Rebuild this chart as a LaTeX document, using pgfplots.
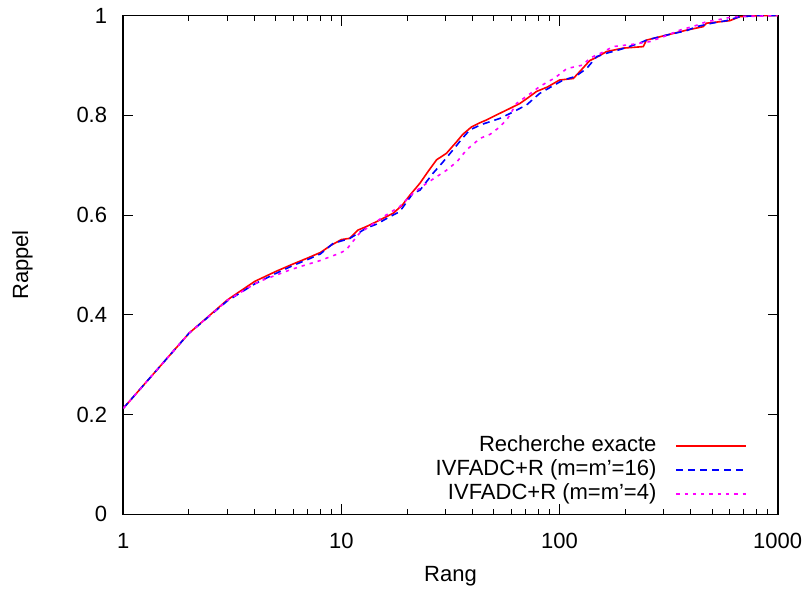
\documentclass[border=0pt]{standalone}
\usepackage{fontspec}
\setmainfont{Liberation Sans}
\usepackage{pgfplots}
\pgfplotsset{compat=1.18}
\definecolor{gpred}{RGB}{255,0,0}
\definecolor{gpblue}{RGB}{0,0,255}
\definecolor{gpmag}{RGB}{255,0,255}
\pgfplotsset{gpline/.style={legend image code/.code={\draw[##1] (0pt,0pt) -- (70pt,0pt);}}}
\begin{document}
\begin{tikzpicture}
\begin{axis}[
  scale only axis,
  width=654.4pt, height=498.6pt,
  xmode=log,
  xmin=1, xmax=1000, ymin=0, ymax=1,
  font=\fontsize{22}{26}\selectfont,
  /pgf/number format/assume math mode=true,
  xtick={1,10,100,1000},
  xticklabels={1,10,100,1000},
  ytick={0,0.2,0.4,0.6,0.8,1},
  yticklabels={0,0.2,0.4,0.6,0.8,1},
  tick align=inside,
  major tick length=10pt,
  minor tick length=5pt,
  tick style={black, line width=1pt},
  axis line style={line width=1.6pt},
  yticklabel style={anchor=east, inner sep=0pt, xshift=-16pt},
  xticklabel style={anchor=north, inner sep=0pt, yshift=-18.7pt},
  xlabel={Rang},
  ylabel={Rappel},
  xlabel style={at={(axis description cs:0.5,0)}, anchor=center, yshift=-62pt},
  ylabel style={at={(axis description cs:-0.154,0.5)}, anchor=center},
  gpline,
  legend plot pos=right,
  legend cell align=right,
  legend style={draw=none, fill=none, at={(axis description cs:1,0)}, anchor=south east,
    xshift=-30.7pt, yshift=10pt, inner sep=0pt, outer sep=0pt,
    row sep=3pt, column sep=19pt,
    nodes={inner sep=0pt, text height=16pt, text depth=5pt}},
]
\addplot[gpred, line width=1.6pt] coordinates {
(1,0.2126) (2,0.363) (3,0.430) (4,0.467) (5,0.487) (6,0.502) (7,0.514) (8,0.525) (9,0.540)
(10,0.551) (10.9,0.5535) (11.9,0.570) (13,0.577) (14.5,0.587) (17.3,0.604) (19,0.620)
(20.6,0.640) (22.9,0.664) (25,0.688) (27.3,0.711) (30.3,0.724) (33.7,0.747) (36,0.762)
(39.5,0.777) (43,0.785) (46.3,0.791) (51.4,0.801) (59.2,0.814) (65.8,0.824) (72,0.836)
(78.4,0.848) (88,0.857) (100,0.871) (115.6,0.874) (125,0.89) (137.6,0.910) (150,0.918)
(164,0.928) (196,0.935) (242,0.938) (250,0.951) (309,0.961) (382,0.971) (455,0.978)
(472,0.985) (603,0.990) (670,0.998) (800,1.0) (1000,1.0)
};
\addlegendentry{Recherche exacte}
\addplot[gpblue, line width=1.6pt, dash pattern=on 7pt off 5pt] coordinates {
(1,0.2126) (2,0.363) (3,0.428) (4,0.462) (5,0.483) (6,0.499) (7,0.511) (8,0.522) (9.17,0.5435)
(10.9,0.553) (13.0,0.574) (14.5,0.582) (16.7,0.597) (18.5,0.607) (21.3,0.644) (22.9,0.650)
(26.3,0.684) (29,0.705) (32.5,0.731) (35.5,0.752) (38.8,0.771) (44,0.782) (53.3,0.794)
(60,0.805) (70.6,0.821) (81,0.844) (92,0.858) (104,0.871) (118,0.878) (133,0.894)
(148,0.918) (165,0.925) (189,0.932) (233,0.945) (250,0.951) (309,0.961) (382,0.970)
(425,0.978) (500,0.985) (582,0.990) (670,0.998) (800,1.0) (1000,1.0)
};
\addlegendentry{IVFADC+R (m=m’=16)}
\addplot[gpmag, line width=1.6pt, dash pattern=on 3.3pt off 5pt] coordinates {
(1,0.2126) (2,0.363) (3,0.429) (4,0.462) (4.38,0.470) (5.8,0.490) (6.45,0.4966) (8,0.509)
(9.8,0.5235) (10.5,0.53) (12.1,0.5636) (15.6,0.597) (18.5,0.617) (21.3,0.644) (24.6,0.664)
(30.3,0.690) (34,0.708) (37.5,0.731) (43.2,0.754) (48,0.762) (53.3,0.777) (58,0.795)
(63.5,0.824) (75.7,0.848) (81,0.858) (95,0.875) (108,0.894) (128,0.901) (137.6,0.915)
(155,0.925) (176,0.938) (220,0.943) (259,0.948) (300,0.958) (356,0.971) (420,0.980)
(472,0.988) (550,0.993) (625,0.998) (1000,1.0)
};
\addlegendentry{IVFADC+R (m=m’=4)}
\end{axis}
\pgfresetboundingbox
\path[use as bounding box] ([xshift=-123.3pt,yshift=-79.7pt]current axis.south west) rectangle ([xshift=30.3pt,yshift=15.7pt]current axis.north east);
\end{tikzpicture}
\end{document}
